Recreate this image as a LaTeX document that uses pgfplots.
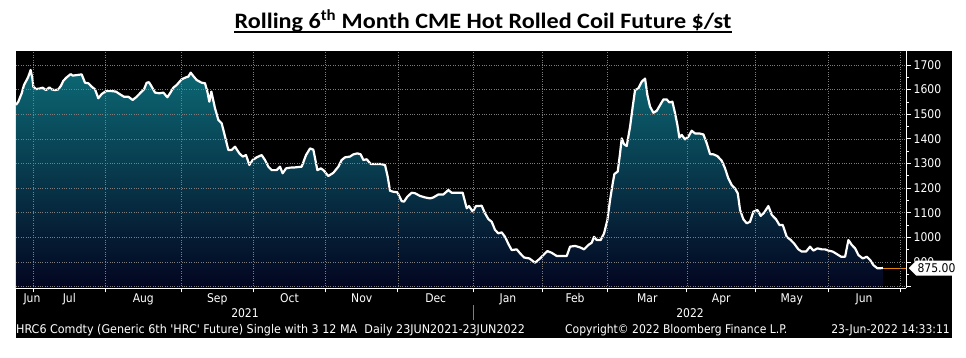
\documentclass[border=0pt]{standalone}
\usepackage{fontspec}
\usepackage{graphicx}
\usepackage{pgfplots}
\pgfplotsset{compat=1.18}
\usepackage{pgfplotstable}
\usetikzlibrary{shapes.symbols}
\newfontfamily\bbg{DejaVu Sans Condensed}
\newfontfamily\ttl{Carlito}
\definecolor{teal1}{RGB}{12,104,116}
\definecolor{navy1}{RGB}{3,5,32}
\definecolor{gridc}{RGB}{125,125,125}
\definecolor{lastc}{RGB}{230,130,10}

% x = trading-day index from 23 Jun 2021 (0) to 23 Jun 2022 (252)
\pgfplotstableread{
i v
0.00 1538
0.68 1551
1.65 1585
2.33 1619
3.10 1639
3.59 1653
4.26 1680
4.75 1646
5.04 1612
5.81 1602
6.98 1605
7.75 1608
8.72 1598
9.69 1609
10.37 1601
11.34 1598
12.31 1601
13.08 1616
13.76 1636
14.73 1650
15.89 1663
16.47 1657
17.64 1659
19.09 1662
20.06 1628
21.03 1626
22.00 1612
22.97 1601
23.93 1565
24.90 1582
26.16 1594
27.81 1594
29.07 1592
30.23 1581
31.40 1571
32.66 1571
33.91 1558
35.08 1571
36.24 1588
37.21 1601
37.98 1628
38.66 1630
39.44 1612
40.41 1588
41.67 1585
42.83 1588
43.99 1569
44.77 1585
45.74 1608
46.71 1619
48.16 1642
49.42 1650
50.10 1653
50.78 1669
51.55 1655
52.52 1639
53.97 1628
54.94 1626
55.62 1592
56.20 1551
56.78 1592
57.85 1524
58.82 1477
59.79 1463
60.76 1409
61.72 1355
62.69 1355
63.66 1368
64.92 1341
65.89 1328
66.86 1334
67.83 1294
68.80 1314
69.96 1325
71.41 1334
72.38 1314
73.35 1287
74.32 1273
75.78 1273
76.74 1287
77.52 1260
78.49 1280
79.65 1283
81.10 1284
83.04 1287
84.30 1334
85.47 1361
86.43 1356
87.60 1273
88.60 1280
89.34 1273
90.79 1249
92.25 1262
93.70 1287
94.67 1314
95.64 1325
97.09 1328
98.06 1337
99.22 1341
100.19 1337
100.97 1314
101.94 1317
103.10 1298
104.36 1298
105.81 1298
107.27 1294
108.04 1246
108.72 1189
109.69 1185
110.85 1183
112.11 1147
112.79 1145
113.76 1165
115.02 1181
115.99 1179
117.44 1168
118.90 1162
120.35 1158
121.32 1162
122.77 1174
124.22 1174
125.68 1192
126.65 1181
128.10 1181
129.84 1181
131.01 1118
131.69 1127
132.75 1104
133.72 1127
135.37 1128
136.34 1097
137.31 1074
138.28 1063
139.24 1030
140.21 1016
141.18 1020
142.15 1002
143.12 973
144.09 948
145.54 951
146.51 935
147.67 918
149.22 914
150.87 897
152.33 914
153.29 928
154.46 944
155.72 937
157.17 924
158.62 924
160.08 924
161.05 962
162.50 965
163.95 959
165.12 951
166.38 969
167.34 978
168.02 1002
168.80 989
169.96 989
170.93 1016
171.90 1070
172.67 1151
173.45 1219
173.93 1257
174.90 1267
175.58 1341
176.07 1402
176.74 1378
177.52 1371
178.49 1449
179.26 1531
179.94 1598
180.91 1605
181.88 1632
182.85 1645
183.53 1578
184.30 1531
185.27 1506
186.24 1514
187.21 1537
188.18 1560
189.15 1560
189.92 1548
190.79 1551
191.57 1504
192.25 1456
192.83 1405
193.51 1416
194.48 1398
195.45 1409
196.41 1433
197.38 1422
198.64 1422
199.81 1418
200.78 1382
201.74 1338
202.71 1337
203.88 1330
205.14 1311
206.10 1280
207.07 1239
208.04 1212
209.01 1198
209.79 1179
210.47 1111
211.43 1073
212.40 1057
213.37 1063
214.34 1104
215.50 1111
216.47 1087
217.44 1100
218.70 1127
219.67 1091
220.93 1073
221.90 1050
222.87 1050
224.03 1002
225.19 989
226.16 975
227.42 951
228.39 942
229.65 942
230.81 962
231.78 946
232.95 955
234.21 951
235.17 951
236.14 946
237.40 942
238.57 932
239.83 921
240.99 921
241.96 989
242.93 969
243.90 955
244.86 928
246.12 914
247.29 921
248.26 908
249.22 887
250.39 874
252.00 875
}\hrc

\begin{document}
\begin{tikzpicture}[x=1pt,y=1pt]
\path[use as bounding box] (0,0) rectangle (966,358);
\fill[white] (0,0) rectangle (966,358);
\fill[black] (16,20) rectangle (952,307);
\begin{axis}[
  at={(16pt,70pt)}, anchor=south west,
  width=890pt, height=237pt, scale only axis,
  xmin=0, xmax=258.7, ymin=794, ymax=1757,
  axis x line*=bottom, axis y line*=right,
  axis line style={white, line width=0.8pt},
  axis on top, tick align=outside,
  xtick={5,26,48,69,90,111,133,153,172,195,215,236,257},
  xticklabels={},
  extra x ticks={4.65,15.5,37,58.5,79.5,100.5,122,143,162.5,183.5,205,225.5,246.5},
  extra x tick labels={Jun,Jul,Aug,Sep,Oct,Nov,Dec,Jan,Feb,Mar,Apr,May,Jun},
  extra x tick style={grid=none, major tick length=0pt},
  ytick={800,900,...,1700},
  yticklabels={,900,1000,1100,1200,1300,1400,1500,1600,1700},
  minor y tick num=1,
  major tick length=4.5pt, minor tick length=3pt,
  tick style={white, line width=0.8pt},
  xmajorgrids, ymajorgrids,
  grid style={gridc, dotted, line width=0.7pt},
  ticklabel style={white, font=\bbg\fontsize{12}{14}\selectfont},
  xticklabel style={anchor=base, inner sep=0pt, yshift=-14.5pt},
  yticklabel style={anchor=west, inner sep=0pt, xshift=3pt},
]
\addplot[draw=none, top color=teal1, bottom color=navy1]
  table[x=i,y=v]{\hrc} -- (axis cs:252,794) -- (axis cs:0,794) -- cycle;
\addplot[white, line width=2.2pt, line join=round] table[x=i,y=v]{\hrc};
\addplot[lastc, line width=1pt] coordinates {(252,875) (258.7,875)};
\coordinate (last) at (axis cs:258.7,875);
\end{axis}
\node[signal, signal to=west, fill=white, text=black, inner xsep=1.3pt, inner ysep=3pt,
  anchor=west, font=\bbg\fontsize{12}{14}\selectfont] at ([xshift=2.5pt]last) {875.00};
\node[white, anchor=base, inner sep=0pt, font=\bbg\fontsize{12}{14}\selectfont] at (245,40.5) {2021};
\node[white, anchor=base, inner sep=0pt, font=\bbg\fontsize{12}{14}\selectfont] at (690,40.5) {2022};
\draw[gridc, line width=0.8pt] (473.5,53) -- (473.5,38);
\node[white, anchor=base west, inner sep=0pt, font=\bbg\fontsize{12}{14}\selectfont] at (16,24.5)
  {\scalebox{1.033}[1]{HRC6 Comdty (Generic 6th 'HRC' Future) Single with 3 12 MA\ \ Daily 23JUN2021-23JUN2022}};
\node[white, anchor=base west, inner sep=0pt, font=\bbg\fontsize{12}{14}\selectfont] at (565,24.5)
  {Copyright© 2022 Bloomberg Finance L.P.};
\node[white, anchor=base east, inner sep=0pt, font=\bbg\fontsize{12}{14}\selectfont] at (950,24.5)
  {23-Jun-2022 14:33:11};
\node[anchor=base, inner sep=0pt, font=\ttl\bfseries\fontsize{22}{24}\selectfont] (T) at (483,329.7)
  {\scalebox{1.098}[1]{Rolling 6\textsuperscript{th} Month CME Hot Rolled Coil Future \$/st}};
\draw[line width=2pt] ([yshift=-3.8pt]T.base west) -- ([yshift=-3.8pt]T.base east);
\end{tikzpicture}
\end{document}
